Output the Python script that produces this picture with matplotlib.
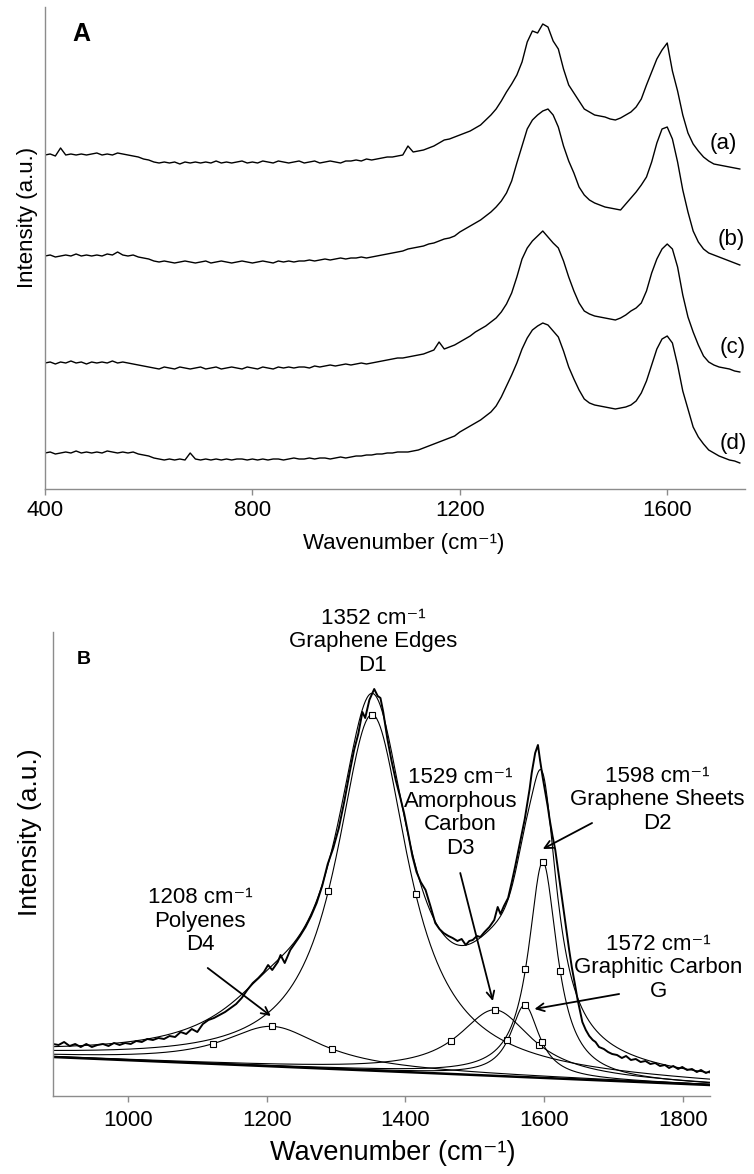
import numpy as np
import matplotlib
matplotlib.use("Agg")
import matplotlib.pyplot as plt

plt.rcParams['font.family'] = ['Liberation Sans', 'DejaVu Sans']

CM = "cm\u207b\u00b9"

# ---------------- Panel A: stacked Raman spectra (a)-(d) ----------------
wavenumber_a = np.arange(400, 1741, 10)

spectrum_a = [
    334, 335, 333, 341, 334, 335, 334, 335, 334, 335,
    336, 334, 335, 334, 336, 335, 334, 333, 332, 330,
    329, 327, 326, 327, 326, 327, 325, 327, 326, 327,
    326, 327, 326, 328, 326, 327, 326, 327, 328, 326,
    327, 326, 328, 327, 326, 328, 327, 326, 327, 328,
    326, 327, 328, 326, 327, 328, 327, 326, 328, 328,
    329, 328, 330, 329, 330, 331, 332, 332, 333, 334,
    343, 337, 338, 339, 341, 343, 346, 349, 350, 352,
    354, 356, 358, 361, 364, 369, 374, 380, 388, 397,
    405, 414, 427, 447, 458, 456, 465, 462, 448, 440,
    420, 404, 396, 388, 380, 377, 374, 373, 372, 370,
    369, 371, 374, 377, 382, 390, 404, 417, 430, 439,
    446, 418, 398, 374, 356, 345, 338, 332, 328, 325,
    324, 323, 322, 321, 320,
]

spectrum_b = [
    233, 234, 232, 233, 234, 233, 235, 233, 234, 233,
    234, 233, 235, 234, 237, 234, 233, 234, 232, 231,
    230, 228, 227, 228, 227, 226, 227, 228, 227, 226,
    227, 228, 226, 227, 228, 227, 226, 227, 228, 227,
    226, 227, 228, 227, 226, 228, 227, 228, 227, 228,
    228, 229, 228, 229, 230, 229, 230, 231, 230, 231,
    231, 232, 231, 232, 233, 234, 235, 236, 237, 238,
    240, 241, 242, 243, 245, 246, 248, 250, 251, 253,
    257, 260, 263, 266, 269, 273, 277, 282, 288, 296,
    308, 326, 343, 360, 369, 374, 378, 380, 374, 362,
    343, 328, 316, 302, 294, 289, 286, 284, 282, 281,
    280, 279, 285, 291, 297, 304, 312, 327, 346, 360,
    362, 350, 327, 299, 277, 258, 247, 240, 236, 234,
    232, 230, 228, 226, 224,
]

spectrum_c = [
    126, 127, 125, 127, 126, 128, 126, 127, 125, 127,
    126, 127, 126, 128, 126, 127, 126, 125, 124, 123,
    122, 121, 120, 122, 121, 120, 122, 121, 120, 121,
    122, 120, 121, 122, 120, 121, 122, 121, 120, 122,
    121, 120, 122, 121, 120, 122, 121, 122, 121, 122,
    122, 121, 123, 122, 123, 124, 123, 124, 125, 124,
    125, 126, 125, 126, 127, 128, 129, 130, 131, 131,
    132, 133, 134, 135, 137, 139, 147, 140, 142, 144,
    147, 150, 153, 157, 160, 163, 167, 171, 177, 185,
    196, 212, 230, 241, 248, 253, 258, 252, 246, 241,
    228, 212, 198, 186, 178, 175, 173, 172, 171, 170,
    169, 171, 174, 178, 181, 186, 198, 216, 230, 240,
    245, 240, 222, 194, 172, 157, 144, 133, 127, 124,
    122, 121, 120, 118, 117,
]

spectrum_d = [
    36, 37, 35, 36, 37, 36, 38, 36, 37, 36,
    37, 36, 38, 37, 36, 37, 36, 37, 35, 34,
    33, 31, 30, 29, 30, 29, 30, 29, 36, 30,
    29, 30, 29, 30, 29, 30, 29, 30, 30, 29,
    30, 29, 30, 29, 30, 30, 29, 30, 31, 30,
    30, 31, 30, 31, 31, 30, 31, 32, 31, 32,
    33, 33, 34, 34, 35, 35, 36, 36, 37, 37,
    37, 38, 39, 41, 43, 45, 47, 49, 51, 53,
    57, 60, 63, 66, 69, 73, 77, 83, 92, 103,
    114, 126, 140, 151, 159, 163, 166, 164, 158, 152,
    138, 122, 110, 99, 90, 86, 84, 83, 82, 81,
    80, 81, 82, 84, 88, 96, 108, 124, 140, 150,
    153, 146, 124, 98, 80, 62, 52, 45, 39, 36,
    33, 31, 29, 28, 26,
]

series_names_a = ["(a)", "(b)", "(c)", "(d)"]
series_label_pos_a = [(1708, 346), (1723, 249), (1727, 141), (1727, 46)]
ticks_a = [400, 800, 1200, 1600]

# ---------------- Panel B: measured spectrum and Lorentzian fit ----------------
wavenumber_b = [
    892, 900, 908, 916, 924, 932, 940, 948, 956, 964, 972, 980, 988, 996, 1004,
    1012, 1020, 1028, 1036, 1044, 1052, 1060, 1068, 1076, 1084, 1092, 1100,
    1108, 1116, 1124, 1132, 1140, 1148, 1156, 1164, 1172, 1180, 1188, 1196,
    1202, 1208, 1216, 1220, 1226, 1234, 1240, 1248, 1256, 1264, 1272, 1280,
    1288, 1296, 1304, 1312, 1320, 1326, 1332, 1338, 1342, 1348, 1355, 1360,
    1364, 1368, 1374, 1380, 1386, 1392, 1398, 1404, 1410, 1416, 1422, 1429,
    1436, 1443, 1449, 1455, 1462, 1468, 1475, 1481, 1487, 1492, 1497, 1503,
    1508, 1514, 1521, 1528, 1533, 1537, 1542, 1548, 1553, 1558, 1563, 1568,
    1572, 1575, 1579, 1582, 1585, 1587, 1591, 1594, 1598, 1601, 1605, 1608,
    1612, 1616, 1621, 1626, 1631, 1636, 1640, 1644, 1648, 1655, 1660, 1665,
    1670, 1674, 1679, 1686, 1692, 1698, 1705, 1712, 1718, 1725, 1732, 1739,
    1746, 1753, 1760, 1767, 1774, 1780, 1786, 1793, 1799, 1806, 1813, 1820,
    1826, 1833, 1840, 1847,
]
intensity_b = [
    52, 51, 54, 50, 52, 49, 52, 49, 51, 52, 50, 53, 51, 53, 52,
    55, 54, 57, 56, 58, 57, 60, 59, 64, 62, 67, 64,
    72, 76, 78, 81, 84, 88, 92, 98, 106, 113, 118, 124,
    131, 126, 134, 141, 133, 146, 152, 160, 169, 180, 193, 210,
    232, 248, 268, 295, 325, 346, 362, 384, 378, 396, 407, 400,
    398, 384, 357, 335, 316, 300, 283, 262, 240, 224, 214, 206,
    190, 173, 167, 163, 160, 158, 155, 157, 151, 155, 156, 160,
    159, 164, 169, 176, 189, 182, 190, 198, 213, 229, 246, 263,
    277, 290, 307, 323, 335, 343, 351, 336, 318, 306, 290, 276,
    260, 246, 221, 196, 171, 146, 128, 113, 97, 74, 66, 60,
    56, 54, 49, 47, 44, 42, 41, 38, 40, 36, 37, 34,
    35, 32, 33, 30, 31, 28, 30, 27, 29, 26, 27, 24,
    26, 23, 25, 22,
]

# linear background (end points) and fitted bands
baseline_wn = [892, 1839]
baseline_val = [39, 11]
band_names = ["D4", "D1", "D3", "G", "D2"]
band_center = [1208, 1352, 1529, 1572, 1598]
band_height = [40, 356, 66, 72, 216]
band_hwhm = [86, 63, 64, 25, 25]
ticks_b = [1000, 1200, 1400, 1600, 1800]

band_text = [
    f"1208 {CM}\nPolyenes\nD4",
    f"1352 {CM}\nGraphene Edges\nD1",
    f"1529 {CM}\nAmorphous\nCarbon\nD3",
    f"1572 {CM}\nGraphitic Carbon\nG",
    f"1598 {CM}\nGraphene Sheets\nD2",
]
band_text_pos = [(1104, 175), (1353, 454), (1479, 283), (1765, 128), (1763, 296)]
band_arrow_tail = [(1115, 128), None, (1479, 223), (1708, 102), (1669, 273)]
band_arrow_head = [(1206, 80), None, (1526, 95), (1586, 87), (1598, 247)]

# ---------------- figure ----------------
W, H = 754, 1174
fig = plt.figure(figsize=(W / 100, H / 100), dpi=100)

spine_col = "#8c8c8c"


def style_axes(ax):
    for s in ("top", "right"):
        ax.spines[s].set_visible(False)
    for s in ("left", "bottom"):
        ax.spines[s].set_color(spine_col)
        ax.spines[s].set_linewidth(1.0)
    ax.set_yticks([])
    ax.tick_params(axis="x", direction="out", length=4, width=1.0,
                   color=spine_col, labelsize=16, pad=4)


# Panel A
axA = fig.add_axes([45 / W, 1 - 489 / H, 700 / W, 482 / H])
style_axes(axA)
for vals in (spectrum_a, spectrum_b, spectrum_c, spectrum_d):
    axA.plot(wavenumber_a, vals, color="black", lw=1.0)
for name, (x, y) in zip(series_names_a, series_label_pos_a):
    axA.text(x, y, name, fontsize=16, ha="center", va="center")
axA.set_xlim(400, 1750)
axA.set_ylim(0, 482)
axA.set_xticks(ticks_a)
fig.text(81 / W, 1 - 34 / H, "A", fontsize=18, fontweight="bold",
         ha="center", va="center")
fig.text(404 / W, 1 - 543 / H, f"Wavenumber ({CM})", fontsize=16,
         ha="center", va="center")
fig.text(28 / W, 1 - 217 / H, "Intensity (a.u.)", fontsize=16,
         rotation=90, ha="center", va="center")

# Panel B
axB = fig.add_axes([53 / W, 1 - 1096 / H, 657 / W, 464 / H])
style_axes(axB)
axB.tick_params(axis="x", pad=6)
wn_fit = np.linspace(baseline_wn[0], baseline_wn[1], 800)
base = np.interp(wn_fit, baseline_wn, baseline_val)


def lorentz(x, c, h, w):
    return h / (1.0 + ((x - c) / w) ** 2)


total = base.copy()
for c, h, w in zip(band_center, band_height, band_hwhm):
    band = lorentz(wn_fit, c, h, w)
    total += band
    axB.plot(wn_fit, base + band, color="black", lw=0.8)
    mx = np.array([c - w, c, c + w])
    my = np.interp(mx, baseline_wn, baseline_val) + lorentz(mx, c, h, w)
    axB.plot(mx, my, ls="none", marker="s", ms=4, mfc="white",
             mec="black", mew=0.8)
axB.plot(wn_fit, base, color="black", lw=1.8)
axB.plot(wn_fit, total, color="black", lw=0.8)
axB.plot(wavenumber_b, intensity_b, color="black", lw=1.4)

for txt, pos, tail, head in zip(band_text, band_text_pos,
                                band_arrow_tail, band_arrow_head):
    axB.text(pos[0], pos[1], txt, fontsize=16, ha="center", va="center",
             multialignment="center", linespacing=1.15, clip_on=False)
    if tail is not None:
        axB.annotate("", xy=head, xytext=tail,
                     arrowprops=dict(arrowstyle="->", lw=1.3, color="black",
                                     shrinkA=0, shrinkB=0,
                                     mutation_scale=14))
axB.set_xlim(892, 1839)
axB.set_ylim(0, 464)
axB.set_xticks(ticks_b)
fig.text(84 / W, 1 - 660 / H, "B", fontsize=14, fontweight="bold",
         ha="center", va="center")
fig.text(393 / W, 1 - 1153 / H, f"Wavenumber ({CM})", fontsize=19.5,
         ha="center", va="center")
fig.text(30 / W, 1 - 832 / H, "Intensity (a.u.)", fontsize=19,
         rotation=90, ha="center", va="center")

fig.savefig("out.png", dpi=100)
